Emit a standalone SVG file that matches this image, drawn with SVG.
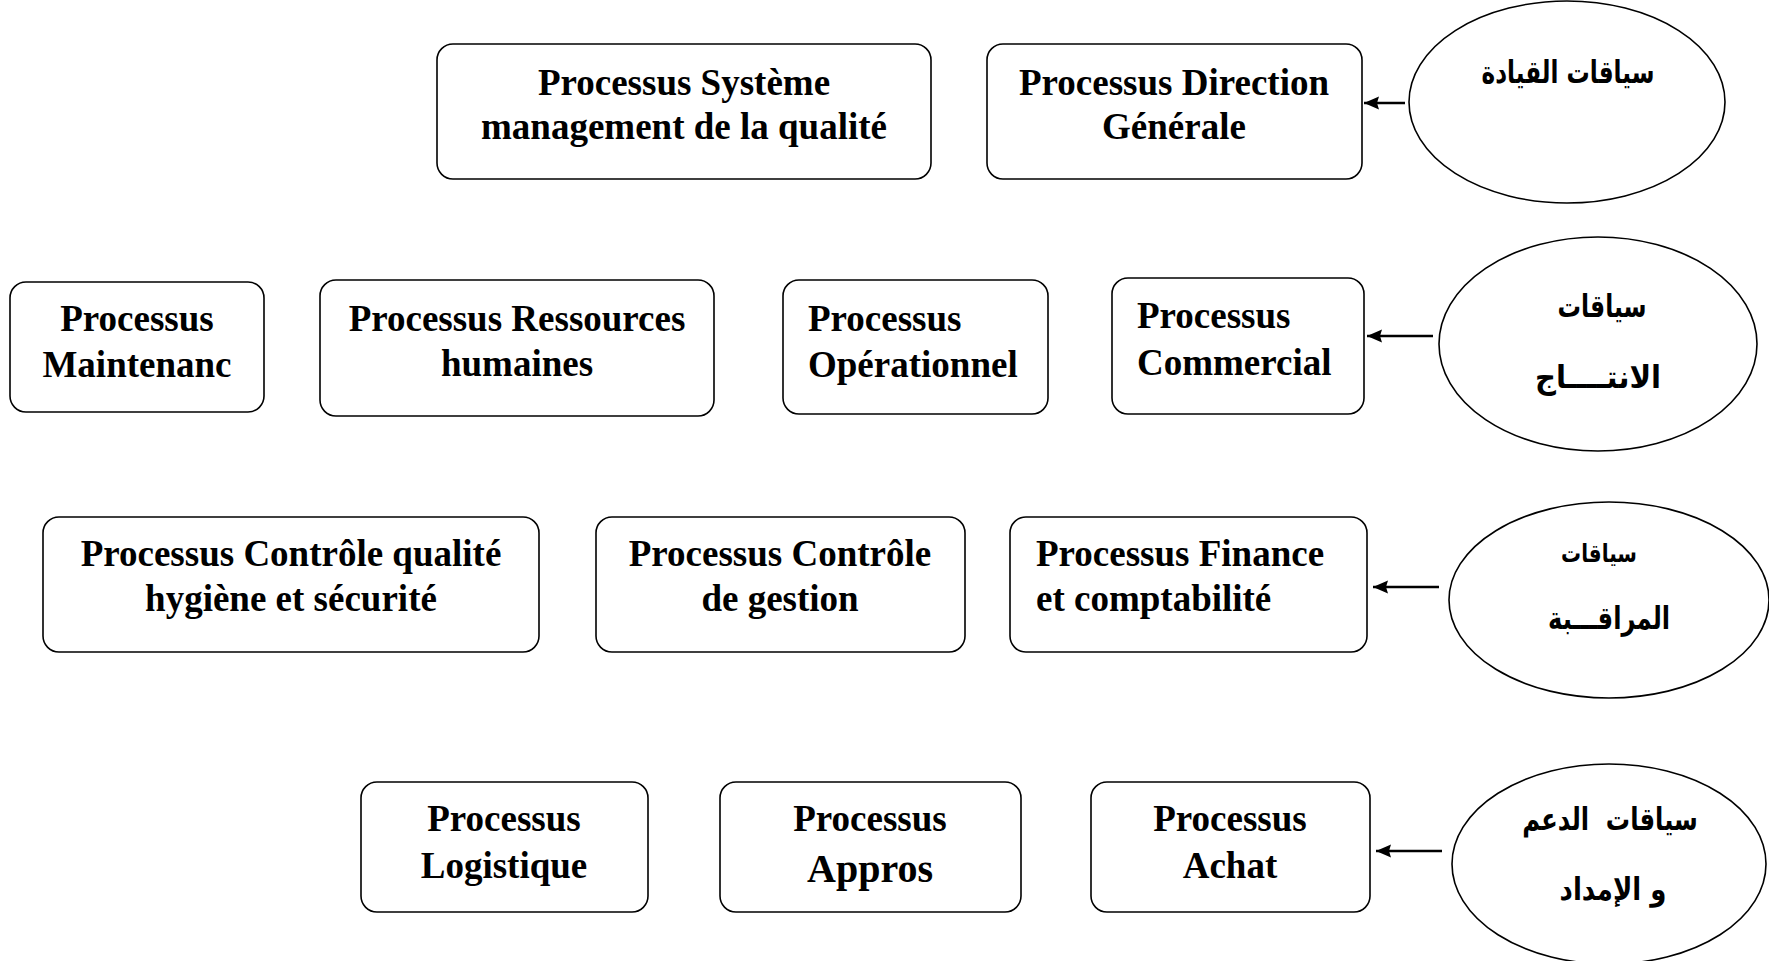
<svg xmlns="http://www.w3.org/2000/svg" width="1769" height="961" viewBox="0 0 1769 961">
  <defs>
    <marker id="arrow" markerWidth="16" markerHeight="14" refX="15" refY="6.5" orient="auto" markerUnits="userSpaceOnUse">
      <path d="M0,0 L15,6.5 L0,13 L2,6.5 Z" fill="#000"/>
    </marker>
    <style>
      .box { fill: #fff; stroke: #000; stroke-width: 1.6; }
      .oval { fill: #fff; stroke: #000; stroke-width: 1.6; }
      .lbl { font-family: "Liberation Serif", "Times New Roman", serif; font-weight: bold; font-size: 37px; fill: #000; }
      .c { text-anchor: middle; }
      .ar { font-family: "DejaVu Sans", "Noto Sans", sans-serif; font-weight: bold; font-size: 26px; fill: #000; text-anchor: middle; direction: rtl; }
      .link { stroke: #000; stroke-width: 2.6; fill: none; marker-end: url(#arrow); }
    </style>
  </defs>
  <rect width="1769" height="961" fill="#fff"/>

  <!-- Leadership processes -->
  <g id="smq">
    <rect class="box" x="437" y="44" width="494" height="135" rx="16"/>
    <text class="lbl c" x="684" y="95">Processus Système</text>
    <text class="lbl c" x="684" y="139">management de la qualité</text>
  </g>
  <g id="direction">
    <rect class="box" x="987" y="44" width="375" height="135" rx="16"/>
    <text class="lbl c" x="1174" y="95">Processus Direction</text>
    <text class="lbl c" x="1174" y="139">Générale</text>
  </g>
  <g id="ctx-leadership">
    <ellipse class="oval" cx="1567" cy="102" rx="158" ry="101"/>
    <text class="ar" transform="translate(1568,83) scale(0.89,1.2)">سياقات القيادة</text>
  </g>

  <!-- Production processes -->
  <g id="maintenance">
    <rect class="box" x="10" y="282" width="254" height="130" rx="16"/>
    <text class="lbl c" x="137" y="331">Processus</text>
    <text class="lbl c" x="137" y="377">Maintenanc</text>
  </g>
  <g id="rh">
    <rect class="box" x="320" y="280" width="394" height="136" rx="16"/>
    <text class="lbl c" x="517" y="331">Processus Ressources</text>
    <text class="lbl c" x="517" y="376">humaines</text>
  </g>
  <g id="operationnel">
    <rect class="box" x="783" y="280" width="265" height="134" rx="16"/>
    <text class="lbl" x="808" y="331">Processus</text>
    <text class="lbl" x="808" y="377">Opérationnel</text>
  </g>
  <g id="commercial">
    <rect class="box" x="1112" y="278" width="252" height="136" rx="16"/>
    <text class="lbl" x="1137" y="328">Processus</text>
    <text class="lbl" x="1137" y="375">Commercial</text>
  </g>
  <g id="ctx-production">
    <ellipse class="oval" cx="1598" cy="344" rx="159" ry="107"/>
    <text class="ar" transform="translate(1602,317) scale(0.9,1.2)">سياقات</text>
    <text class="ar" transform="translate(1598,388) scale(1.12,1.2)">الانتــــاج</text>
  </g>

  <!-- Monitoring processes -->
  <g id="cq-hse">
    <rect class="box" x="43" y="517" width="496" height="135" rx="16"/>
    <text class="lbl c" x="291" y="566">Processus Contrôle qualité</text>
    <text class="lbl c" x="291" y="611">hygiène et sécurité</text>
  </g>
  <g id="cdg">
    <rect class="box" x="596" y="517" width="369" height="135" rx="16"/>
    <text class="lbl c" x="780" y="566">Processus Contrôle</text>
    <text class="lbl c" x="780" y="611">de gestion</text>
  </g>
  <g id="finance">
    <rect class="box" x="1010" y="517" width="357" height="135" rx="16"/>
    <text class="lbl" x="1036" y="566">Processus Finance</text>
    <text class="lbl" x="1036" y="611">et comptabilité</text>
  </g>
  <g id="ctx-monitoring">
    <ellipse class="oval" cx="1609" cy="600" rx="160" ry="98"/>
    <text class="ar" transform="translate(1599,562) scale(0.95,1.2)" style="font-size:21px">سياقات</text>
    <text class="ar" transform="translate(1609,629) scale(0.93,1.2)">المراقـــبة</text>
  </g>

  <!-- Support processes -->
  <g id="logistique">
    <rect class="box" x="361" y="782" width="287" height="130" rx="16"/>
    <text class="lbl c" x="504" y="831">Processus</text>
    <text class="lbl c" x="504" y="878">Logistique</text>
  </g>
  <g id="appros">
    <rect class="box" x="720" y="782" width="301" height="130" rx="16"/>
    <text class="lbl c" x="870" y="831">Processus</text>
    <text class="lbl c" x="870" y="882" style="font-size:40px">Appros</text>
  </g>
  <g id="achat">
    <rect class="box" x="1091" y="782" width="279" height="130" rx="16"/>
    <text class="lbl c" x="1230" y="831">Processus</text>
    <text class="lbl c" x="1230" y="878">Achat</text>
  </g>
  <g id="ctx-support">
    <ellipse class="oval" cx="1609" cy="864" rx="157" ry="100"/>
    <text class="ar" transform="translate(1610,830) scale(0.93,1.2)" xml:space="preserve">سياقات  الدعم</text>
    <text class="ar" transform="translate(1613,900) scale(1,1.2)">و الإمداد</text>
  </g>

  <!-- Connectors -->
  <g id="connectors">
    <line class="link" x1="1405" y1="103" x2="1364" y2="103"/>
    <line class="link" x1="1433" y1="336" x2="1367" y2="336"/>
    <line class="link" x1="1439" y1="587" x2="1373" y2="587"/>
    <line class="link" x1="1442" y1="851" x2="1376" y2="851"/>
  </g>
</svg>
